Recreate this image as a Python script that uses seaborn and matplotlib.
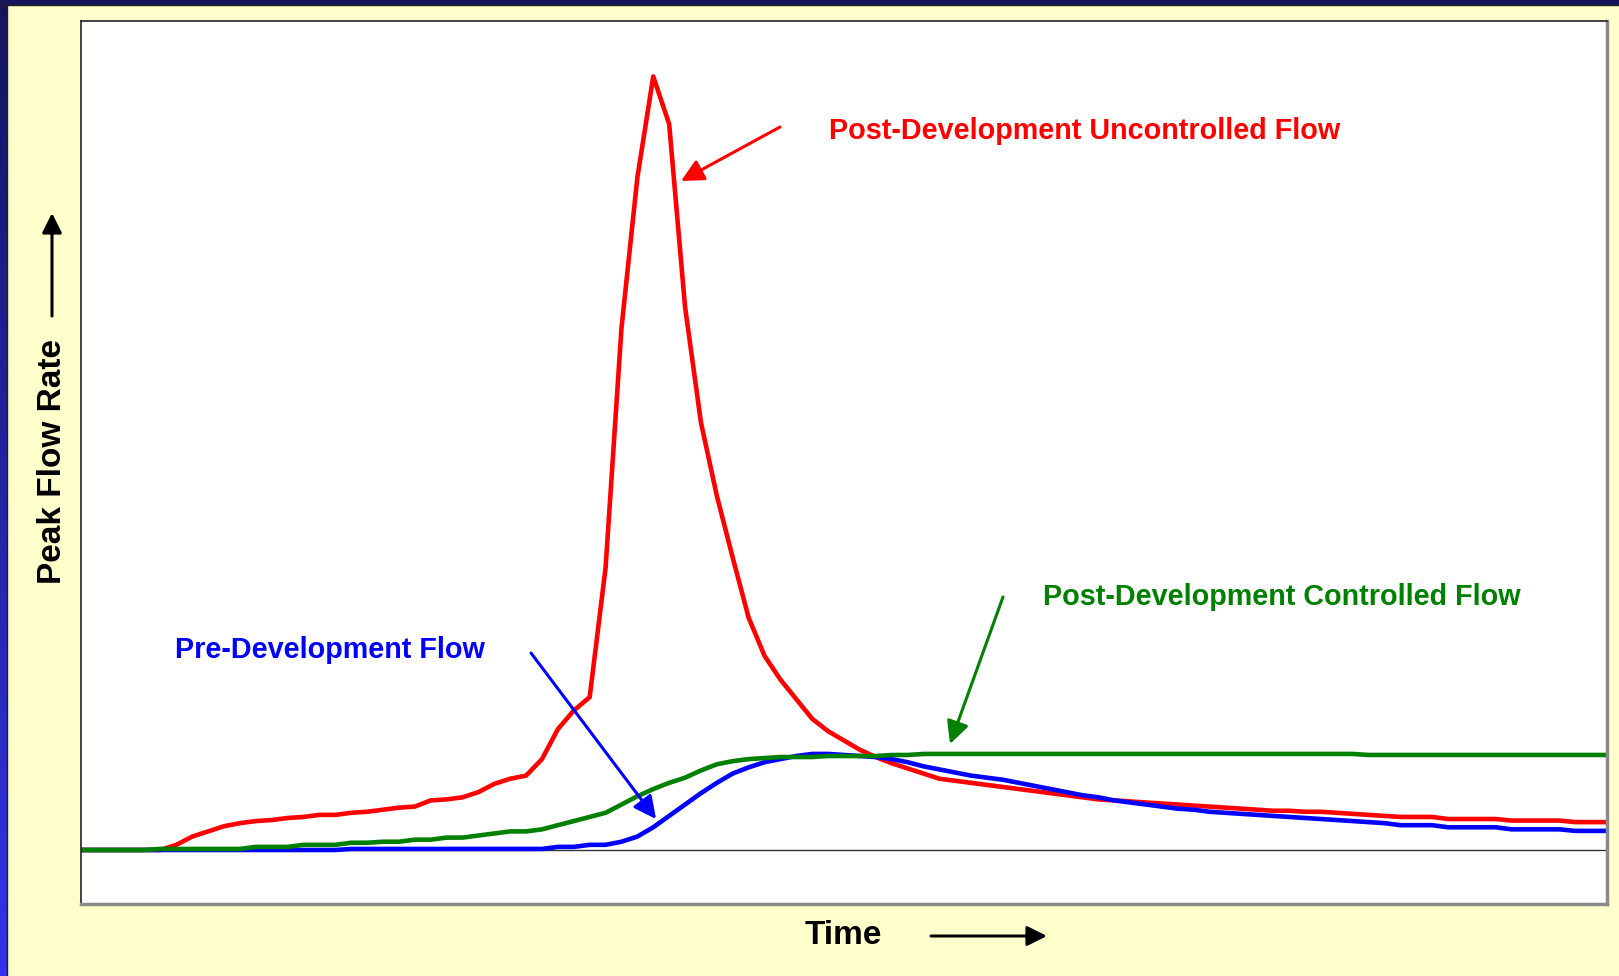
import numpy as np
import pandas as pd
import matplotlib
matplotlib.use("Agg")
import matplotlib.pyplot as plt
import seaborn as sns

# Hydrograph ordinates (equal time steps, arbitrary flow units)
uncontrolled = [0, 0, 0, 0, 0, 0, 5, 13, 18, 23, 26, 28, 29, 31, 32, 34, 34, 36, 37, 39,
                41, 42, 48, 49, 51, 56, 64, 69, 72, 88, 117, 135, 148, 273, 505, 651, 749, 703, 526, 414,
                343, 283, 225, 188, 165, 146, 127, 115, 106, 97, 90, 84, 79, 74, 69, 67, 65, 63, 61, 59,
                57, 55, 53, 51, 49, 48, 47, 46, 45, 44, 43, 42, 41, 40, 39, 38, 38, 37, 37, 36,
                35, 34, 33, 32, 32, 32, 30, 30, 30, 30, 28.5, 28.5, 28.5, 28.5, 27, 27, 27]

controlled = [0, 0, 0, 0, 0, 1, 1, 1, 1, 1, 1, 3, 3, 3, 5, 5, 5, 7, 7, 8,
              8, 10, 10, 12, 12, 14, 16, 18, 18, 20, 24, 28, 32, 36, 44, 52, 59, 65, 70, 77,
              83, 86, 88, 89, 90, 90, 90, 91, 91, 91, 91, 92, 92] + [93] * 28 + [92] * 16

predevelopment = [0] * 17 + [1] * 13 + [3, 3, 5, 5, 8, 13, 22, 33, 44, 55,
                  65, 74, 80, 85, 88, 91, 93, 93, 92, 91, 90, 88, 85, 81, 78, 75, 72, 70, 68, 65,
                  62, 59, 56, 53, 51, 48, 46, 44, 42, 40, 39, 37, 36, 35, 34, 33, 32, 31, 30, 29,
                  28, 27, 26, 24, 24, 24, 22, 22, 22, 22, 20, 20, 20, 20, 18.5, 18.5, 18.5]

series_names = ["Post-Development Uncontrolled Flow",
                "Pre-Development Flow",
                "Post-Development Controlled Flow"]
series_colors = ["#FF0000", "#0000FF", "#008000"]

frames = []
for name, vals in zip(series_names, [uncontrolled, predevelopment, controlled]):
    frames.append(pd.DataFrame({"step": np.arange(len(vals)), "flow": vals, "series": name}))
df = pd.concat(frames, ignore_index=True)

W, H = 1619, 976
fig = plt.figure(figsize=(W / 100, H / 100), dpi=100)
fig.patch.set_facecolor("#FFFFCC")

# slide frame: dark band along the top, gradient strip on the left
fig.add_artist(plt.Rectangle((0, 1 - 4 / H), 1, 4 / H, transform=fig.transFigure,
                             color="#15155E", zorder=0))
fig.add_artist(plt.Line2D([0, 1], [1 - 4.5 / H] * 2, transform=fig.transFigure,
                          color="#202020", lw=1))
strip = fig.add_axes([0, 0, 6 / W, 1 - 4 / H])
grad = np.linspace(0, 1, 256).reshape(-1, 1)
cmap = matplotlib.colors.LinearSegmentedColormap.from_list("frame", ["#3333EE", "#15155E"])
strip.imshow(grad, aspect="auto", cmap=cmap, origin="lower")
strip.axis("off")
fig.add_artist(plt.Line2D([6.5 / W] * 2, [0, 1 - 4 / H], transform=fig.transFigure,
                          color="#202020", lw=1))

ax = fig.add_axes([81 / W, (H - 904) / H, (1607 - 81) / W, (904 - 21) / H])
ax.set_facecolor("white")

sns.lineplot(data=df, x="step", y="flow", hue="series", hue_order=series_names,
             palette=series_colors, linewidth=3.3, legend=False, ax=ax, sort=False)

ax.axhline(0, color="#333333", lw=1.0, zorder=1)
ax.set_xlim(0, len(uncontrolled) - 1)
ax.set_ylim(-52.3, 802.7)
ax.set_xticks([])
ax.set_yticks([])
ax.set_xlabel("")
ax.set_ylabel("")
for side in ["left", "top"]:
    ax.spines[side].set_color("#222222")
    ax.spines[side].set_linewidth(1.2)
for side in ["right", "bottom"]:
    ax.spines[side].set_color("#8A8A8A")
    ax.spines[side].set_linewidth(2.5)

font = "Liberation Sans"
label_size = 20.7

def fp(x, y):
    return (x, H - y)

# series labels with pointer arrows
ax.annotate("", xy=fp(681, 181), xytext=fp(780, 127), xycoords="figure pixels",
            textcoords="figure pixels",
            arrowprops=dict(arrowstyle="-|>", color="#FF0000", lw=2.2, mutation_scale=34,
                            shrinkA=0, shrinkB=0))
fig.text(829 / W, 1 - 131 / H, series_names[0], color="#FF0000", fontsize=label_size,
         fontweight="bold", family=font, ha="left", va="center")

ax.annotate("", xy=fp(950, 744), xytext=fp(1003, 597), xycoords="figure pixels",
            textcoords="figure pixels",
            arrowprops=dict(arrowstyle="-|>", color="#008000", lw=2.2, mutation_scale=34,
                            shrinkA=0, shrinkB=0))
fig.text(1043 / W, 1 - 597 / H, series_names[2], color="#008000", fontsize=label_size,
         fontweight="bold", family=font, ha="left", va="center")

ax.annotate("", xy=fp(656, 819), xytext=fp(531, 653), xycoords="figure pixels",
            textcoords="figure pixels",
            arrowprops=dict(arrowstyle="-|>", color="#0000FF", lw=2.2, mutation_scale=34,
                            shrinkA=0, shrinkB=0))
fig.text(175 / W, 1 - 650 / H, series_names[1], color="#0000FF", fontsize=label_size,
         fontweight="bold", family=font, ha="left", va="center")

# axis titles with direction arrows
fig.text(52 / W, 1 - 462 / H, "Peak Flow Rate", rotation=90, color="black", fontsize=24,
         fontweight="bold", family=font, ha="center", va="center")
fig.add_artist(matplotlib.patches.FancyArrowPatch(
    (52, H - 316), (52, H - 213), transform=None, arrowstyle="-|>", mutation_scale=30,
    color="black", lw=2.2, shrinkA=0, shrinkB=0))

fig.text(843 / W, 1 - 935 / H, "Time", color="black", fontsize=24,
         fontweight="bold", family=font, ha="center", va="center")
fig.add_artist(matplotlib.patches.FancyArrowPatch(
    (931, H - 936), (1047, H - 936), transform=None, arrowstyle="-|>", mutation_scale=30,
    color="black", lw=2.2, shrinkA=0, shrinkB=0))

fig.savefig("out.png", dpi=100, facecolor=fig.get_facecolor())
